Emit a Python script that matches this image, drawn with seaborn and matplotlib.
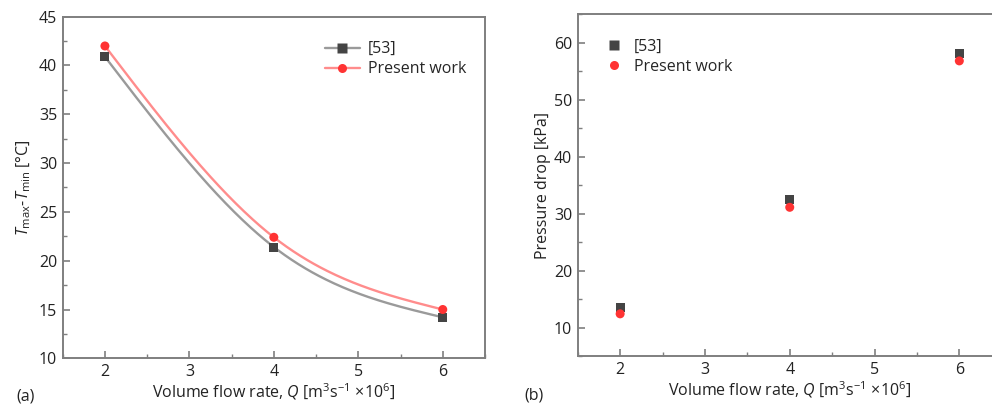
import numpy as np
import pandas as pd
import seaborn as sns
import matplotlib
matplotlib.use('Agg')
import matplotlib.pyplot as plt
from matplotlib.lines import Line2D
from matplotlib.ticker import MultipleLocator

# values
flow = [2, 4, 6]
dt_ref = [40.9, 21.4, 14.2]
dt_present = [42.0, 22.4, 15.0]
dp_ref = [13.6, 32.4, 58.1]
dp_present = [12.4, 31.1, 56.8]
labels = ['[53]', 'Present work']


def natural_spline(x, y, n=200):
    # smooth connecting curve like the original plotting software draws
    x = np.asarray(x, float)
    y = np.asarray(y, float)
    h = np.diff(x)
    m = len(x)
    A = np.zeros((m, m))
    b = np.zeros(m)
    A[0, 0] = A[-1, -1] = 1
    for i in range(1, m - 1):
        A[i, i - 1] = h[i - 1] / 6
        A[i, i] = (h[i - 1] + h[i]) / 3
        A[i, i + 1] = h[i] / 6
        b[i] = (y[i + 1] - y[i]) / h[i] - (y[i] - y[i - 1]) / h[i - 1]
    M = np.linalg.solve(A, b)
    xs = np.linspace(x[0], x[-1], n)
    idx = np.clip(np.searchsorted(x, xs) - 1, 0, m - 2)
    x0, x1 = x[idx], x[idx + 1]
    hh = x1 - x0
    t0, t1 = x1 - xs, xs - x0
    ys = (M[idx] * t0**3 + M[idx + 1] * t1**3) / (6 * hh) \
        + (y[idx] / hh - M[idx] * hh / 6) * t0 \
        + (y[idx + 1] / hh - M[idx + 1] * hh / 6) * t1
    return xs, ys


sns.set_theme(style='ticks')
plt.rcParams['font.family'] = ['Open Sans', 'DejaVu Sans']
plt.rcParams['mathtext.fontset'] = 'custom'
plt.rcParams['mathtext.rm'] = 'Open Sans'
plt.rcParams['mathtext.it'] = 'Open Sans:italic'
plt.rcParams['mathtext.default'] = 'rm'

gray_line, gray_mk = '#9a9a9a', '#444444'
red_line, red_mk = '#ff8c8c', '#ff3333'
spine_c = '#7f7f7f'
txt_c = '#222222'
fs = 11.5

fig = plt.figure(figsize=(9.92, 4.05), dpi=100)
ax1 = fig.add_axes([0.0632, 0.1153, 0.4257, 0.8435])
ax2 = fig.add_axes([0.5824, 0.121, 0.4274, 0.844])

# (a) temperature difference
for vals, lc, mc, mk in [(dt_ref, gray_line, gray_mk, 's'),
                         (dt_present, red_line, red_mk, 'o')]:
    xs, ys = natural_spline(flow, vals)
    sns.lineplot(x=xs, y=ys, ax=ax1, color=lc, lw=1.7, sort=False)
    sns.scatterplot(x=flow, y=vals, ax=ax1, color=mc, marker=mk, s=42,
                    edgecolor='none', zorder=3)

ax1.set_xlim(1.5, 6.5)
ax1.set_ylim(10, 45)
ax1.set_xticks([2, 3, 4, 5, 6])
ax1.set_yticks(range(10, 46, 5))
ax1.xaxis.set_minor_locator(MultipleLocator(0.5))
ax1.yaxis.set_minor_locator(MultipleLocator(2.5))
ax1.set_ylabel(r'$\it{T}_{\rm max}$-$\it{T}_{\rm min}$ [°C]', fontsize=fs,
               color=txt_c, labelpad=4)
h1 = [Line2D([], [], color=gray_line, lw=1.7, marker='s', ms=6.5,
             mfc=gray_mk, mec='none'),
      Line2D([], [], color=red_line, lw=1.7, marker='o', ms=6.5,
             mfc=red_mk, mec='none')]
ax1.legend(h1, labels, loc='upper right', frameon=False, fontsize=fs,
           handlelength=2.2, handletextpad=0.5, labelspacing=0.25,
           bbox_to_anchor=(0.99, 0.97))

# (b) pressure drop
sns.scatterplot(x=flow, y=dp_ref, ax=ax2, color=gray_mk, marker='s', s=42,
                edgecolor='none', zorder=3)
sns.scatterplot(x=flow, y=dp_present, ax=ax2, color=red_mk, marker='o', s=42,
                edgecolor='none', zorder=3)
ax2.set_xlim(1.5, 6.5)
ax2.set_ylim(5, 65)
ax2.set_xticks([2, 3, 4, 5, 6])
ax2.set_yticks(range(10, 61, 10))
ax2.xaxis.set_minor_locator(MultipleLocator(0.5))
ax2.yaxis.set_minor_locator(MultipleLocator(5))
ax2.set_ylabel('Pressure drop [kPa]', fontsize=fs, color=txt_c, labelpad=2)
h2 = [Line2D([], [], ls='none', marker='s', ms=6.5, mfc=gray_mk, mec='none'),
      Line2D([], [], ls='none', marker='o', ms=6.5, mfc=red_mk, mec='none')]
ax2.legend(h2, labels, loc='upper left', frameon=False, fontsize=fs,
           handlelength=1.2, handletextpad=0.6, labelspacing=0.25,
           bbox_to_anchor=(0.03, 0.97))

xlab = r'Volume flow rate, $\it{Q}$ [m$^3$s$^{-1}$ ×10$^6$]'
for ax in (ax1, ax2):
    ax.set_xlabel(xlab, fontsize=fs, color=txt_c, labelpad=1)
    for s in ax.spines.values():
        s.set_color(spine_c)
        s.set_linewidth(1.4)
    ax.tick_params(which='major', direction='in', length=5, width=1.2,
                   color=spine_c, labelsize=fs, labelcolor=txt_c, pad=4)
    ax.tick_params(which='minor', direction='in', length=3, width=1.0,
                   color=spine_c)

fig.text(0.017, 0.01, '(a)', fontsize=fs, color=txt_c)
fig.text(0.529, 0.014, '(b)', fontsize=fs, color=txt_c)

fig.savefig('out.png', dpi=100)
